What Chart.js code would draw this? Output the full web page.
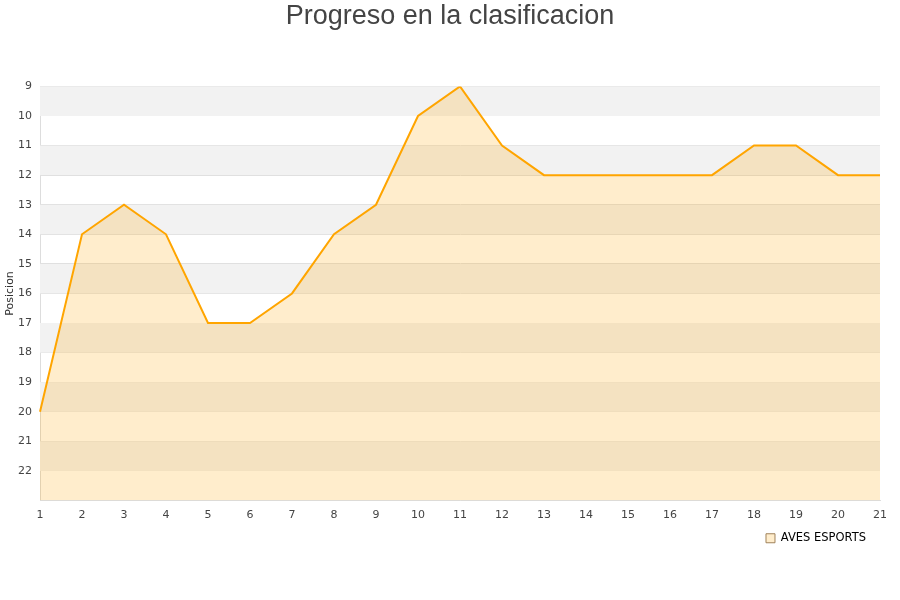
<!DOCTYPE html>
<html>
<head>
<meta charset="utf-8">
<script src="https://cdn.jsdelivr.net/npm/chart.js@4.4.1/dist/chart.umd.min.js"></script>
<style>
  html, body { margin: 0; padding: 0; background: #fff; }
  #wrap { width: 900px; height: 600px; }
</style>
</head>
<body>
<div id="wrap"><canvas id="chart"></canvas></div>
<script>
/* Jornadas and positions. */
const jornadas = ["1", "2", "3", "4", "5", "6", "7", "8", "9", "10", "11",
  "12", "13", "14", "15", "16", "17", "18", "19", "20", "21"]
const posiciones = [20, 14, 13, 14, 17, 17, 16, 14, 13, 10, 9,
  11, 12, 12, 12, 12, 12, 11, 11, 12, 12]
const equipo = "AVES ESPORTS"

/* Position axis range (reversed, 9 on top). */
const posMin = 9
const posMax = 23

/* Plugin to paint alternating grey bands behind the area. */
const bandsPlugin = {
  id: "bands",
  beforeDatasetsDraw(chart) {
    const { ctx, chartArea, scales } = chart
    const y = scales.y
    ctx.save()
    ctx.fillStyle = "#f2f2f2"
    for (let v = posMin; v < posMax; v += 2) {
      const top = y.getPixelForValue(v)
      const bottom = y.getPixelForValue(Math.min(v + 1, posMax))
      ctx.fillRect(chartArea.left, top, chartArea.right - chartArea.left, bottom - top)
    }
    ctx.restore()
  }
}

const ctx = document.getElementById("chart").getContext("2d")
const chart = new Chart(ctx, {
  type: "line",
  data: {
    labels: jornadas,
    datasets: [{
      label: equipo,
      data: posiciones,
      borderColor: "#ffa500",
      borderWidth: 2,
      backgroundColor: "rgba(255, 165, 0, 0.2)",
      fill: "start",
      pointRadius: 0,
      tension: 0
    }]
  },
  options: {
    responsive: true,
    maintainAspectRatio: false,
    animation: false,
    layout: {
      padding: { left: 0, right: 0, top: 0, bottom: 46 }
    },
    scales: {
      x: {
        offset: false,
        afterFit: scale => { scale.height = 18 },
        grid: { display: false },
        border: { color: "#dddddd" },
        ticks: {
          color: "#444",
          font: { family: "DejaVu Sans", size: 11 },
          maxRotation: 0,
          padding: 0
        }
      },
      y: {
        reverse: true,
        min: posMin,
        max: posMax,
        afterFit: scale => { scale.width = 40 },
        grid: { color: "#dddddd", drawTicks: false },
        border: { color: "#dddddd" },
        title: {
          display: true,
          text: "Posicion",
          color: "#333",
          font: { family: "DejaVu Sans", size: 11 },
          padding: { top: 4, bottom: 0 }
        },
        ticks: {
          stepSize: 1,
          color: "#444",
          padding: 8,
          font: { family: "DejaVu Sans", size: 11 },
          callback: v => (v === posMax ? "" : v)
        }
      },
      /* Empty right axis, only to keep space at the right side. */
      y2: {
        position: "right",
        afterFit: scale => { scale.width = 20 },
        grid: { display: false },
        border: { display: false },
        ticks: { display: false }
      }
    },
    plugins: {
      title: {
        display: true,
        text: "Progreso en la clasificacion",
        color: "#444",
        font: { family: "Liberation Sans", size: 27, weight: "normal" },
        padding: { top: 0, bottom: 54 }
      },
      legend: {
        display: true,
        position: "bottom",
        align: "end",
        fullSize: false,
        labels: {
          color: "#000",
          boxWidth: 9,
          boxHeight: 9,
          padding: 14,
          font: { family: "DejaVu Sans", size: 11.5 },
          generateLabels: c => [{
            text: equipo,
            fillStyle: "rgba(255, 165, 0, 0.2)",
            strokeStyle: "#a0825a",
            lineWidth: 1,
            datasetIndex: 0
          }]
        }
      },
      tooltip: { enabled: false }
    }
  },
  plugins: [bandsPlugin]
})
</script>
</body>
</html>
